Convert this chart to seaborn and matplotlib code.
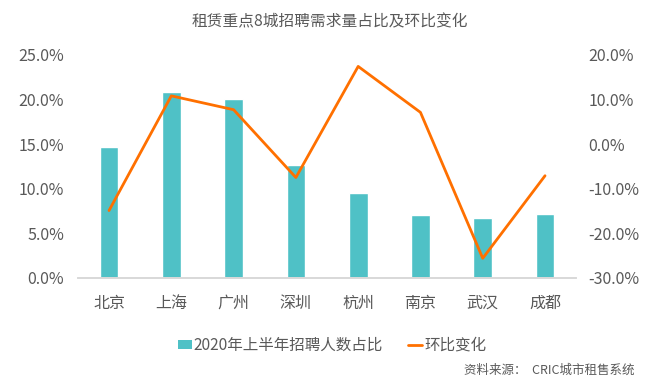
import pandas as pd
import matplotlib.pyplot as plt
import seaborn as sns
from matplotlib.ticker import FuncFormatter, MultipleLocator
from matplotlib.patches import Patch
from matplotlib.lines import Line2D

# data
cities = ['北京', '上海', '广州', '深圳', '杭州', '南京', '武汉', '成都']
share_pct = [14.7, 20.8, 20.1, 12.7, 9.5, 7.0, 6.7, 7.2]
mom_change = [-14.9, 10.8, 7.7, -7.5, 17.4, 7.1, -25.6, -7.1]

df = pd.DataFrame({'city': cities, 'share': share_pct, 'mom': mom_change})

sns.set_theme(style="white")
plt.rcParams['font.family'] = ['Noto Sans CJK SC', 'DejaVu Sans']

text_color = '#595959'
bar_color = '#4FC1C6'
line_color = '#FF7000'

fig = plt.figure(figsize=(6.6, 3.86), dpi=100)
ax = fig.add_axes([0.118, 0.280, 0.755, 0.578])

sns.barplot(data=df, x='city', y='share', color=bar_color, width=0.3,
            saturation=1, ax=ax)
ax.set_ylim(0, 25)
ax.yaxis.set_major_locator(MultipleLocator(5))
ax.yaxis.set_major_formatter(FuncFormatter(lambda v, p: f'{v:.1f}%'))

ax2 = ax.twinx()
sns.lineplot(data=df, x='city', y='mom', color=line_color, linewidth=2, ax=ax2,
             sort=False)
ax2.set_ylim(-30, 20)
ax2.yaxis.set_major_locator(MultipleLocator(10))
ax2.yaxis.set_major_formatter(FuncFormatter(lambda v, p: f'{v:.1f}%'))
ax.set_xlim(-0.5, len(cities) - 0.5)

for a in (ax, ax2):
    a.set_xlabel('')
    a.set_ylabel('')
    for s in ['top', 'left', 'right']:
        a.spines[s].set_visible(False)
    a.spines['bottom'].set_color('#D9D9D9')
    a.tick_params(axis='both', length=0, labelsize=11.5, colors=text_color)
    a.grid(False)
ax.tick_params(axis='x', pad=12)
ax.tick_params(axis='y', pad=10)
ax2.tick_params(axis='y', pad=9)

fig.text(0.5, 0.943, '租赁重点8城招聘需求量占比及环比变化', ha='center', va='center',
         fontsize=11.3, color=text_color)

handles = [Patch(facecolor=bar_color, edgecolor='none'),
           Line2D([0], [0], color=line_color, linewidth=2)]
fig.legend(handles, ['2020年上半年招聘人数占比', '环比变化'], loc='center',
           bbox_to_anchor=(0.503, 0.105), ncol=2, frameon=False, fontsize=11.2,
           labelcolor=text_color, handlelength=0.9, handleheight=0.6,
           handletextpad=0.15, columnspacing=1.6)

fig.text(0.961, 0.04, '资料来源：  CRIC城市租售系统', ha='right', va='center',
         fontsize=9, color=text_color)

plt.savefig('out.png', dpi=100)
